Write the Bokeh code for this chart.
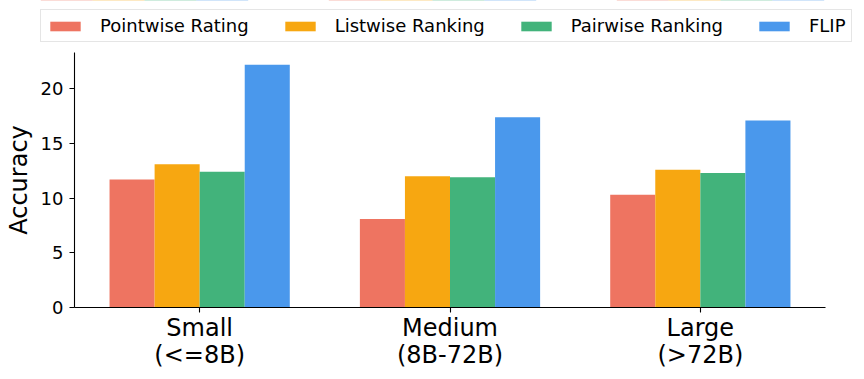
from bokeh.plotting import figure
from bokeh.models import (ColumnDataSource, Range1d, FactorRange, Legend, LegendItem,
                          FixedTicker)
from bokeh.layouts import column
from bokeh.transform import dodge
from bokeh.embed import file_html
from bokeh.resources import INLINE

categories = ["Small\n(<=8B)", "Medium\n(8B-72B)", "Large\n(>72B)"]
series_names = ["Pointwise Rating", "Listwise Ranking", "Pairwise Ranking", "FLIP"]
pointwise = [11.7, 8.1, 10.3]
listwise = [13.1, 12.0, 12.6]
pairwise = [12.4, 11.9, 12.3]
flip = [22.2, 17.4, 17.1]
colors = ["#EE7461", "#F7A711", "#42B37B", "#4A98EC"]
y_ticks = [0, 5, 10, 15, 20]

FONT = "DejaVu Sans"
W = 864
LEG_H = 52
MAIN_H = 327
BL, BR, BB = 74, 39, 72

src = ColumnDataSource(data=dict(cat=categories, pw=pointwise, lw=listwise, pr=pairwise, fl=flip))
fields = ["pw", "lw", "pr", "fl"]
width = 0.18
offsets = [-0.27, -0.09, 0.09, 0.27]

ymax = max(max(pointwise), max(listwise), max(pairwise), max(flip)) * 1.05

# ---- main chart ----
p = figure(width=W, height=MAIN_H, x_range=FactorRange(*categories, range_padding=0),
           y_range=Range1d(0, ymax), output_backend="svg", toolbar_location=None,
           min_border_left=BL, min_border_right=BR, min_border_top=0, min_border_bottom=BB)
for f, off, c in zip(fields, offsets, colors):
    p.vbar(x=dodge("cat", off, range=p.x_range), top=f, width=width, source=src,
           fill_color=c, line_color=None)
p.outline_line_color = None
p.xgrid.grid_line_color = None
p.ygrid.grid_line_color = None
p.background_fill_color = "white"
p.border_fill_color = "white"

for ax in (p.xaxis[0], p.yaxis[0]):
    ax.axis_line_color = "black"
    ax.axis_line_width = 1.1
    ax.major_tick_line_color = "black"
    ax.major_tick_line_width = 1.1
    ax.major_tick_out = 5
    ax.major_tick_in = 0
    ax.minor_tick_line_color = None
    ax.major_label_text_font = FONT
    ax.major_label_text_color = "black"

p.yaxis.ticker = FixedTicker(ticks=y_ticks)
p.yaxis.major_label_text_font_size = "18px"
p.yaxis.major_label_standoff = 6
p.yaxis.axis_label = "Accuracy"
p.yaxis.axis_label_text_font = FONT
p.yaxis.axis_label_text_font_size = "24px"
p.yaxis.axis_label_text_font_style = "normal"
p.yaxis.axis_label_text_color = "black"
p.yaxis.axis_label_standoff = 5

p.xaxis.major_label_text_font_size = "24px"
p.xaxis.major_label_standoff = 1
p.xaxis.major_label_text_line_height = 0.98
p.xaxis.group_text_font_size = "0px"

# ---- legend strip ----
lg = figure(width=W, height=LEG_H, x_range=FactorRange(*categories, range_padding=0),
            y_range=Range1d(-200, -199), output_backend="svg", toolbar_location=None,
            x_axis_location=None, y_axis_location=None,
            min_border_left=0, min_border_right=0, min_border_top=0, min_border_bottom=0)
lg.frame_align = False
lg.outline_line_color = None
lg.xgrid.grid_line_color = None
lg.ygrid.grid_line_color = None
lg.background_fill_color = "white"
lg.border_fill_color = "white"

leg_renderers = []
for f, off, c in zip(fields, offsets, colors):
    r = lg.vbar(x=dodge("cat", off, range=lg.x_range), top=f, width=width, source=src,
                fill_color=c, line_color=None)
    leg_renderers.append(r)

items = [LegendItem(label=n, renderers=[r]) for n, r in zip(series_names, leg_renderers)]
legend = Legend(items=items, orientation="horizontal", location=(40, 9.7),
                glyph_width=38, glyph_height=12, label_standoff=16, spacing=32,
                padding=5, margin=0,
                label_text_font=FONT, label_text_font_size="18px", label_text_color="black",
                border_line_color="#CCCCCC", border_line_width=1,
                background_fill_color="white", background_fill_alpha=0.8)
lg.add_layout(legend, "center")

layout = column(lg, p, spacing=0)
open("out.html", "w").write(file_html(layout, INLINE))
